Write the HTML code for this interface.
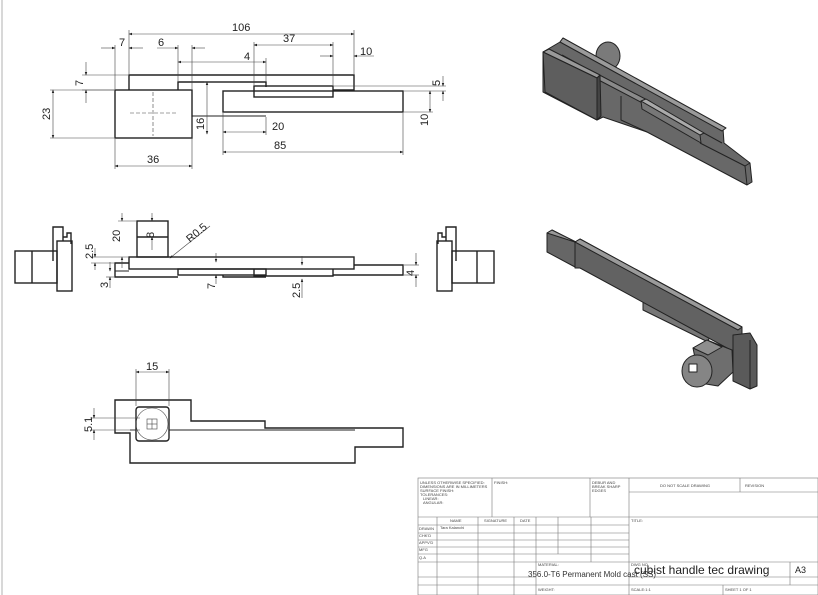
<!DOCTYPE html>
<html><head><meta charset="utf-8"><style>
html,body{margin:0;padding:0;background:#fff;}
svg{display:block;font-family:"Liberation Sans",sans-serif;}
.l{stroke:#222;fill:none;stroke-width:1.4}
.t{stroke:#444;fill:none;stroke-width:0.6}
.d{font-size:11px;fill:#222}
.s{font-size:4px;fill:#444}
</style></head><body>
<svg width="818" height="595" viewBox="0 0 818 595">
<defs><marker id="a" markerWidth="6" markerHeight="6" refX="5" refY="3" orient="auto-start-reverse"><path d="M0,1 L6,3 L0,5z" fill="#222"/></marker></defs>
<line x1="2" y1="0" x2="2" y2="595" stroke="#ccc" stroke-width="1.5"/>

<!-- TOP VIEW -->
<g class="l">
<rect x="115" y="90" width="77" height="48"/>
<polyline points="129,90 129,75 354,75 354,90 333,90"/>
<polyline points="178,90 178,82 266,82 266,87"/>
<rect x="254" y="86" width="79" height="11"/>
<rect x="223" y="91" width="180" height="21"/>
<line x1="192" y1="116" x2="266" y2="116" stroke-width="1"/>
</g>
<g class="t" stroke-dasharray="4,2"><line x1="130" y1="113" x2="176" y2="113"/><line x1="153" y1="92" x2="153" y2="136"/></g>
<g class="t">
<line x1="129" y1="34" x2="354" y2="34" marker-start="url(#a)" marker-end="url(#a)"/>
<line x1="129" y1="30" x2="129" y2="74"/><line x1="354" y1="30" x2="354" y2="74"/>
<line x1="254" y1="45" x2="333" y2="45" marker-start="url(#a)" marker-end="url(#a)"/>
<line x1="254" y1="42" x2="254" y2="85"/><line x1="333" y1="42" x2="333" y2="85"/>
<line x1="178" y1="62" x2="266" y2="62" marker-start="url(#a)" marker-end="url(#a)"/>
<line x1="178" y1="45" x2="178" y2="81"/><line x1="266" y1="58" x2="266" y2="81"/>
<line x1="101" y1="48" x2="115" y2="48" marker-end="url(#a)"/><line x1="143" y1="48" x2="129" y2="48" marker-end="url(#a)"/>
<line x1="115" y1="45" x2="115" y2="89"/>
<line x1="157" y1="48" x2="178" y2="48" marker-end="url(#a)"/><line x1="205" y1="48" x2="192" y2="48" marker-end="url(#a)"/>
<line x1="192" y1="45" x2="192" y2="89"/>
<line x1="320" y1="56" x2="333" y2="56" marker-end="url(#a)"/><line x1="374" y1="56" x2="354" y2="56" marker-end="url(#a)"/>
<line x1="86" y1="62" x2="86" y2="75" marker-end="url(#a)"/><line x1="86" y1="103" x2="86" y2="90" marker-end="url(#a)"/>
<line x1="82" y1="75" x2="128" y2="75"/><line x1="82" y1="90" x2="114" y2="90"/>
<line x1="53" y1="90" x2="53" y2="138" marker-start="url(#a)" marker-end="url(#a)"/>
<line x1="50" y1="90" x2="114" y2="90"/><line x1="50" y1="138" x2="114" y2="138"/>
<line x1="207" y1="82" x2="207" y2="134" marker-start="url(#a)" marker-end="url(#a)"/>
<line x1="204" y1="82" x2="240" y2="82"/>
<line x1="443" y1="76" x2="443" y2="86" marker-end="url(#a)"/><line x1="443" y1="101" x2="443" y2="91" marker-end="url(#a)"/>
<line x1="334" y1="86" x2="446" y2="86"/><line x1="404" y1="91" x2="446" y2="91"/>
<line x1="430" y1="91" x2="430" y2="112" marker-start="url(#a)" marker-end="url(#a)"/>
<line x1="404" y1="112" x2="433" y2="112"/>
<line x1="223" y1="132" x2="266" y2="132" marker-start="url(#a)" marker-end="url(#a)"/>
<line x1="223" y1="113" x2="223" y2="155"/><line x1="266" y1="117" x2="266" y2="135"/>
<line x1="223" y1="152" x2="403" y2="152" marker-start="url(#a)" marker-end="url(#a)"/>
<line x1="403" y1="113" x2="403" y2="155"/>
<line x1="115" y1="166" x2="192" y2="166" marker-start="url(#a)" marker-end="url(#a)"/>
<line x1="115" y1="139" x2="115" y2="169"/><line x1="192" y1="117" x2="192" y2="169"/>
</g>
<g class="d">
<text x="232" y="31">106</text><text x="283" y="42">37</text><text x="244" y="60">4</text>
<text x="119" y="46">7</text><text x="158" y="46">6</text><text x="360" y="55">10</text>
<text x="272" y="130">20</text><text x="274" y="149">85</text><text x="147" y="163">36</text>
<text transform="translate(83,86) rotate(-90)">7</text>
<text transform="translate(50,120) rotate(-90)">23</text>
<text transform="translate(204,130) rotate(-90)">16</text>
<text transform="translate(440,86) rotate(-90)">5</text>
<text transform="translate(428,126) rotate(-90)">10</text>
</g>

<!-- FRONT VIEW -->
<g class="l">
<rect x="15" y="251" width="42" height="32"/><line x1="32" y1="251" x2="32" y2="283"/>
<polyline points="53,261 53,227 63,227 63,241"/>
<rect x="57" y="241" width="15" height="50"/>
<polyline points="63,237 67,237 67,233 71,233 71,244"/>
<rect x="137" y="221" width="31" height="36"/><line x1="137" y1="237" x2="168" y2="237"/>
<rect x="129" y="257" width="225" height="12"/>
<polyline points="129,263 115,263 115,277 178,277"/>
<line x1="115" y1="271" x2="129" y2="271" stroke-width="1"/>
<rect x="178" y="269" width="88" height="6"/>
<polyline points="223,275 223,277 266,277"/>
<polyline points="254,269 254,276 333,276 333,269"/>
<polyline points="354,265 403,265 403,275 333,275"/>
<rect x="452" y="251" width="42" height="32"/><line x1="477" y1="251" x2="477" y2="283"/>
<polyline points="456,261 456,227 446,227 446,241"/>
<rect x="437" y="241" width="15" height="50"/>
<polyline points="446,237 442,237 442,233 438,233 438,244"/>
</g>
<g class="t">
<line x1="122" y1="213" x2="122" y2="221" marker-end="url(#a)"/><line x1="122" y1="268" x2="122" y2="257" marker-end="url(#a)"/>
<line x1="118" y1="221" x2="136" y2="221"/>
<line x1="152" y1="213" x2="152" y2="221" marker-end="url(#a)"/><line x1="152" y1="250" x2="152" y2="237" marker-end="url(#a)"/>
<line x1="210" y1="226" x2="170" y2="258" marker-end="url(#a)"/>
<line x1="95" y1="248" x2="95" y2="257" marker-end="url(#a)"/><line x1="95" y1="270" x2="95" y2="263" marker-end="url(#a)"/>
<line x1="91" y1="257" x2="128" y2="257"/><line x1="91" y1="263" x2="114" y2="263"/>
<line x1="110" y1="262" x2="110" y2="271" marker-end="url(#a)"/><line x1="110" y1="288" x2="110" y2="277" marker-end="url(#a)"/>
<line x1="106" y1="277" x2="114" y2="277"/>
<line x1="216" y1="253" x2="216" y2="262" marker-end="url(#a)"/><line x1="216" y1="284" x2="216" y2="275" marker-end="url(#a)"/>
<line x1="302" y1="256" x2="302" y2="265" marker-end="url(#a)"/><line x1="302" y1="298" x2="302" y2="279" marker-end="url(#a)"/>
<line x1="416" y1="253" x2="416" y2="265" marker-end="url(#a)"/><line x1="416" y1="287" x2="416" y2="275" marker-end="url(#a)"/>
<line x1="404" y1="265" x2="419" y2="265"/><line x1="404" y1="275" x2="419" y2="275"/>
</g>
<g class="d">
<text transform="translate(120,242) rotate(-90)">20</text>
<text transform="translate(154,238) rotate(-90)">8</text>
<text transform="translate(190,243) rotate(-40)">R0.5</text>
<text transform="translate(93,259) rotate(-90)">2.5</text>
<text transform="translate(108,288) rotate(-90)">3</text>
<text transform="translate(215,289) rotate(-90)">7</text>
<text transform="translate(300,298) rotate(-90)">2.5</text>
<text transform="translate(414,276) rotate(-90)">4</text>
</g>

<!-- BOTTOM VIEW -->
<g class="l">
<polygon points="115,400 191,400 191,421 265,421 265,428 403,428 403,447 355,447 355,463 130,463 130,433 115,433"/>
<line x1="130" y1="430" x2="355" y2="430" stroke-width="1"/>
<rect x="136" y="407" width="33" height="34" rx="3" fill="#fff"/>
</g>
<circle cx="152" cy="424" r="16" class="t"/>
<rect x="147" y="419" width="10" height="10" class="t"/>
<g class="t"><line x1="152" y1="419" x2="152" y2="429"/><line x1="147" y1="424" x2="157" y2="424"/>
<line x1="136" y1="372" x2="169" y2="372" marker-start="url(#a)" marker-end="url(#a)"/>
<line x1="136" y1="369" x2="136" y2="406"/><line x1="169" y1="369" x2="169" y2="406"/>
<line x1="94" y1="408" x2="94" y2="418" marker-end="url(#a)"/><line x1="94" y1="440" x2="94" y2="430" marker-end="url(#a)"/>
<line x1="90" y1="418" x2="140" y2="418"/><line x1="90" y1="430" x2="140" y2="430"/></g>
<g class="d"><text x="146" y="370">15</text><text transform="translate(92,432) rotate(-90)">5.1</text></g>

<!-- ISO 1 -->
<g stroke="#222" stroke-width="1" stroke-linejoin="round">
<ellipse cx="608" cy="56" rx="12" ry="14" fill="#7a7a7a"/>
<polygon points="543,52 560,42 563,38 723,128 724,143 750,163 752,182 747,185 647,132 603,117 597,120 543,92" fill="#686868"/>
<polygon points="560,42 563,38 726,128 722,131" fill="#9a9a9a"/>
<polyline points="562,55 722,143" fill="none"/>
<polygon points="590,70 651,102 652,108 591,76" fill="#8a8a8a"/>
<polygon points="641,101 700,135 701,143 642,109" fill="#777"/>
<polygon points="641,101 646,99 704,133 700,135" fill="#aaa"/>
<polyline points="700,143 745,166 750,163" fill="none"/>
<line x1="745" y1="166" x2="747" y2="185"/>
<polyline points="621,96 621,120 647,132" fill="none"/>
<polygon points="543,52 549,49 600,75 597,78" fill="#999"/>
<polygon points="543,52 597,78 597,120 545,92" fill="#5e5e5e"/>
<polygon points="597,78 600,75 601,116 597,120" fill="#444"/>
</g>

<!-- ISO 2 -->
<g stroke="#222" stroke-width="1" stroke-linejoin="round">
<polygon points="547,233 552,230 575,242 575,267 547,252" fill="#666"/>
<polygon points="547,233 552,230 580,244 575,242" fill="#999"/>
<polygon points="643,302 710,335 708,342 643,310" fill="#777"/>
<polygon points="575,242 580,239 742,327 742,352 738,354 580,268 575,268" fill="#626262"/>
<polygon points="575,242 580,239 742,327 738,330" fill="#9a9a9a"/>
<polygon points="733,335 750,333 757,345 757,386 750,389 733,381" fill="#5a5a5a"/>
<line x1="750" y1="340" x2="750" y2="389"/>
<polygon points="693,348 707,340 732,350 733,372 718,386 700,383" fill="#6e6e6e"/>
<polygon points="693,348 707,340 722,347 708,355" fill="#8e8e8e"/>
<ellipse cx="697" cy="371" rx="15" ry="16" fill="#858585"/>
<rect x="689" y="364" width="8" height="8" fill="#fff"/>
</g>

<!-- TITLE BLOCK -->
<g stroke="#777" stroke-width="0.6" fill="none">
<rect x="418" y="478" width="400" height="117"/>
<line x1="492" y1="478" x2="492" y2="517"/><line x1="590" y1="478" x2="590" y2="517"/>
<line x1="629" y1="478" x2="629" y2="595"/><line x1="740" y1="478" x2="740" y2="492"/>
<line x1="629" y1="492" x2="818" y2="492"/>
<line x1="418" y1="517" x2="818" y2="517"/>
<line x1="418" y1="525" x2="629" y2="525"/><line x1="418" y1="533" x2="629" y2="533"/>
<line x1="418" y1="540" x2="629" y2="540"/><line x1="418" y1="547" x2="629" y2="547"/>
<line x1="418" y1="554" x2="629" y2="554"/><line x1="418" y1="562" x2="818" y2="562"/>
<line x1="418" y1="577" x2="536" y2="577"/><line x1="629" y1="577" x2="818" y2="577"/>
<line x1="418" y1="585" x2="818" y2="585"/>
<line x1="437" y1="517" x2="437" y2="595"/><line x1="478" y1="517" x2="478" y2="595"/>
<line x1="514" y1="517" x2="514" y2="595"/><line x1="536" y1="517" x2="536" y2="595"/>
<line x1="558" y1="517" x2="558" y2="554"/><line x1="591" y1="517" x2="591" y2="562"/>
<line x1="790" y1="562" x2="790" y2="585"/>
<line x1="723" y1="585" x2="723" y2="595"/>
</g>
<g class="s">
<text x="420" y="484">UNLESS OTHERWISE SPECIFIED:</text>
<text x="420" y="488">DIMENSIONS ARE IN MILLIMETERS</text>
<text x="420" y="492">SURFACE FINISH:</text>
<text x="420" y="496">TOLERANCES:</text>
<text x="423" y="500">LINEAR:</text><text x="423" y="504">ANGULAR:</text>
<text x="494" y="484">FINISH:</text>
<text x="592" y="484">DEBUR AND</text><text x="592" y="488">BREAK SHARP</text><text x="592" y="492">EDGES</text>
<text x="660" y="487">DO NOT SCALE DRAWING</text><text x="745" y="487">REVISION</text>
<text x="631" y="522">TITLE:</text>
<text x="450" y="522">NAME</text><text x="484" y="522">SIGNATURE</text><text x="520" y="522">DATE</text>
<text x="419" y="530">DRAWN</text><text x="440" y="529">Tara Kalanchi</text>
<text x="419" y="537">CHK'D</text><text x="419" y="544">APPV'D</text><text x="419" y="551">MFG</text><text x="419" y="559">Q.A</text>
<text x="538" y="566">MATERIAL:</text><text x="631" y="566">DWG NO.</text>
<text x="538" y="591">WEIGHT:</text><text x="631" y="591">SCALE:1:1</text><text x="725" y="591">SHEET 1 OF 1</text>
</g>
<text x="528" y="577" font-size="8" fill="#333">356.0-T6 Permanent Mold cast (SS)</text>
<text x="634" y="574" font-size="12" fill="#222">cubist handle tec drawing</text>
<text x="795" y="573" font-size="9" fill="#222">A3</text>
</svg>
</body></html>
